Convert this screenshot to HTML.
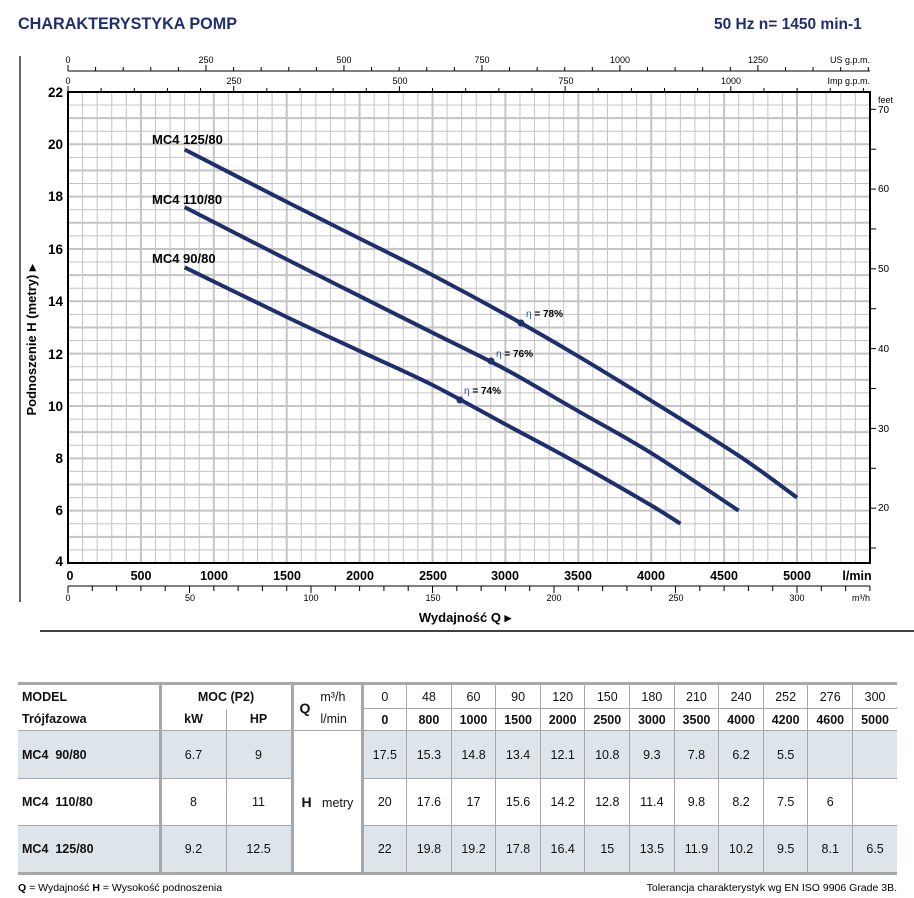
<!DOCTYPE html>
<html><head><meta charset="utf-8"><style>
html,body{margin:0;padding:0;background:#fff;width:914px;height:898px;overflow:hidden;font-family:"Liberation Sans",sans-serif}
svg{position:absolute;left:0;top:0}
table{position:absolute;left:18px;top:682px;border-collapse:collapse;font-family:"Liberation Sans",sans-serif;font-size:12.5px;color:#111}
td{border:1px solid #a8a8a8;text-align:center;padding:0;white-space:nowrap}
.b{font-weight:bold}
.sh td.s{background:#dde5eb}
</style></head><body>
<svg id="s" width="914" height="898" xmlns="http://www.w3.org/2000/svg" font-family="Liberation Sans, sans-serif">
<text x="18" y="29" font-size="16.5" font-weight="bold" fill="#1f2f6e" textLength="219" lengthAdjust="spacingAndGlyphs">CHARAKTERYSTYKA POMP</text>
<text x="714" y="29" font-size="15.5" font-weight="bold" fill="#1f2f6e">50 Hz   n= 1450 min-1</text>
<line x1="20" y1="56" x2="20" y2="602" stroke="#000" stroke-width="1.2"/>
<g id="grid"></g>
<g id="ticks" stroke="#000" stroke-width="1"></g>
<rect x="68" y="92" width="802" height="471" fill="none" stroke="#000" stroke-width="2"/>
<line x1="68" y1="71" x2="870" y2="71" stroke="#000"/>
<line x1="68" y1="586" x2="870" y2="586" stroke="#000"/>
<g font-size="9" fill="#000" text-anchor="middle">
<text x="68" y="63">0</text><text x="206" y="63">250</text><text x="344" y="63">500</text><text x="482" y="63">750</text><text x="620" y="63">1000</text><text x="758" y="63">1250</text>
<text x="870" y="63" text-anchor="end">US g.p.m.</text>
<text x="68" y="84">0</text><text x="234" y="84">250</text><text x="400" y="84">500</text><text x="566" y="84">750</text><text x="731" y="84">1000</text>
<text x="870" y="84" text-anchor="end">Imp g.p.m.</text>
<text x="68" y="601">0</text><text x="190" y="601">50</text><text x="311" y="601">100</text><text x="433" y="601">150</text><text x="554" y="601">200</text><text x="676" y="601">250</text><text x="797" y="601">300</text>
<text x="870" y="601" text-anchor="end">m³/h</text>
<text x="878" y="103" text-anchor="start">feet</text>
<text x="878" y="113" text-anchor="start" font-size="10">70</text><text x="878" y="192" text-anchor="start" font-size="10">60</text><text x="878" y="272" text-anchor="start" font-size="10">50</text><text x="878" y="352" text-anchor="start" font-size="10">40</text><text x="878" y="432" text-anchor="start" font-size="10">30</text><text x="878" y="511" text-anchor="start" font-size="10">20</text>
</g>
<g font-size="13.5" font-weight="bold" fill="#000" text-anchor="end">
<text x="63" y="97">22</text><text x="63" y="149">20</text><text x="63" y="201">18</text><text x="63" y="254">16</text><text x="63" y="306">14</text><text x="63" y="359">12</text><text x="63" y="411">10</text><text x="63" y="463">8</text><text x="63" y="515">6</text><text x="63" y="566">4</text>
</g>
<g font-size="12.5" font-weight="bold" fill="#000" text-anchor="middle">
<text x="70" y="580">0</text><text x="141" y="580">500</text><text x="214" y="580">1000</text><text x="287" y="580">1500</text><text x="360" y="580">2000</text><text x="433" y="580">2500</text><text x="505" y="580">3000</text><text x="578" y="580">3500</text><text x="651" y="580">4000</text><text x="724" y="580">4500</text><text x="797" y="580">5000</text><text x="857" y="580">l/min</text>
</g>
<text x="465" y="622" font-size="13" font-weight="bold" text-anchor="middle">Wydajność Q ▸</text>
<line x1="40" y1="631" x2="914" y2="631" stroke="#000" stroke-width="1.5"/>
<text transform="translate(36,340) rotate(-90)" font-size="13" font-weight="bold" text-anchor="middle">Podnoszenie H (metry) ▸</text>
<g id="curves" fill="none" stroke="#1f2f6e" stroke-width="4" stroke-linejoin="round"></g>
<g font-size="13" font-weight="bold" fill="#000">
<text x="152" y="144">MC4 125/80</text><text x="152" y="204">MC4 110/80</text><text x="152" y="263">MC4 90/80</text>
</g>
<g fill="#1f2f6e"><circle cx="521" cy="323" r="3.5"/><circle cx="491" cy="361" r="3.5"/><circle cx="460" cy="400" r="3.5"/></g>
<g font-size="10" font-weight="bold" fill="#000">
<text x="526" y="317"><tspan fill="#2a55a0" font-weight="normal">η</tspan> = 78%</text>
<text x="496" y="357"><tspan fill="#2a55a0" font-weight="normal">η</tspan> = 76%</text>
<text x="464" y="394"><tspan fill="#2a55a0" font-weight="normal">η</tspan> = 74%</text>
</g>
<text x="18" y="891" font-size="10.5"><tspan font-weight="bold">Q</tspan> = Wydajność  <tspan font-weight="bold">H</tspan> = Wysokość podnoszenia</text>
<text x="897" y="891" font-size="10.5" text-anchor="end">Tolerancja charakterystyk wg EN ISO 9906 Grade 3B.</text>
</svg>
<table>
<colgroup><col style="width:142px"><col style="width:66px"><col style="width:66px"><col style="width:70px"><col span="12" style="width:44.6px"></colgroup>
<tr style="height:25px"><td class="b" style="text-align:left;padding-left:4px;border-left:none;border-top:3px solid #a8a8a8;border-bottom:none;border-right:3px solid #a8a8a8">MODEL</td><td class="b" colspan="2" style="border-top:3px solid #a8a8a8;border-bottom:none;border-right:3px solid #a8a8a8">MOC (P2)</td><td rowspan="2" style="border-top:3px solid #a8a8a8;border-right:3px solid #a8a8a8;text-align:left;padding-left:6px"><span class="b" style="font-size:14px;vertical-align:middle">Q</span><span style="display:inline-block;vertical-align:middle;margin-left:10px;line-height:22px">m³/h<br>l/min</span></td>
<td style="border-top:3px solid #a8a8a8">0</td><td style="border-top:3px solid #a8a8a8">48</td><td style="border-top:3px solid #a8a8a8">60</td><td style="border-top:3px solid #a8a8a8">90</td><td style="border-top:3px solid #a8a8a8">120</td><td style="border-top:3px solid #a8a8a8">150</td><td style="border-top:3px solid #a8a8a8">180</td><td style="border-top:3px solid #a8a8a8">210</td><td style="border-top:3px solid #a8a8a8">240</td><td style="border-top:3px solid #a8a8a8">252</td><td style="border-top:3px solid #a8a8a8">276</td><td style="border-top:3px solid #a8a8a8;border-right:none">300</td></tr>
<tr style="height:22px" class="b"><td style="text-align:left;padding-left:4px;border-left:none;border-top:none;border-right:3px solid #a8a8a8">Trójfazowa</td><td style="border-top:none">kW</td><td style="border-right:3px solid #a8a8a8;border-top:none">HP</td><td>0</td><td>800</td><td>1000</td><td>1500</td><td>2000</td><td>2500</td><td>3000</td><td>3500</td><td>4000</td><td>4200</td><td>4600</td><td style="border-right:none">5000</td></tr>
<tr style="height:48px" class="sh"><td class="s b" style="text-align:left;padding-left:4px;border-left:none;border-right:3px solid #a8a8a8">MC4&nbsp; 90/80</td><td class="s">6.7</td><td class="s" style="border-right:3px solid #a8a8a8">9</td><td rowspan="3" style="border-right:3px solid #a8a8a8;border-bottom:3px solid #a8a8a8;text-align:left;padding-left:8px"><span class="b" style="font-size:14px">H</span>&nbsp;&nbsp; metry</td><td class="s">17.5</td><td class="s">15.3</td><td class="s">14.8</td><td class="s">13.4</td><td class="s">12.1</td><td class="s">10.8</td><td class="s">9.3</td><td class="s">7.8</td><td class="s">6.2</td><td class="s">5.5</td><td class="s"></td><td class="s" style="border-right:none"></td></tr>
<tr style="height:47px"><td class="b" style="text-align:left;padding-left:4px;border-left:none;border-right:3px solid #a8a8a8">MC4&nbsp; 110/80</td><td>8</td><td style="border-right:3px solid #a8a8a8">11</td><td>20</td><td>17.6</td><td>17</td><td>15.6</td><td>14.2</td><td>12.8</td><td>11.4</td><td>9.8</td><td>8.2</td><td>7.5</td><td>6</td><td style="border-right:none"></td></tr>
<tr style="height:48px" class="sh"><td class="s b" style="text-align:left;padding-left:4px;border-left:none;border-right:3px solid #a8a8a8;border-bottom:3px solid #a8a8a8">MC4&nbsp; 125/80</td><td class="s" style="border-bottom:3px solid #a8a8a8">9.2</td><td class="s" style="border-right:3px solid #a8a8a8;border-bottom:3px solid #a8a8a8">12.5</td><td class="s" style="border-bottom:3px solid #a8a8a8">22</td><td class="s" style="border-bottom:3px solid #a8a8a8">19.8</td><td class="s" style="border-bottom:3px solid #a8a8a8">19.2</td><td class="s" style="border-bottom:3px solid #a8a8a8">17.8</td><td class="s" style="border-bottom:3px solid #a8a8a8">16.4</td><td class="s" style="border-bottom:3px solid #a8a8a8">15</td><td class="s" style="border-bottom:3px solid #a8a8a8">13.5</td><td class="s" style="border-bottom:3px solid #a8a8a8">11.9</td><td class="s" style="border-bottom:3px solid #a8a8a8">10.2</td><td class="s" style="border-bottom:3px solid #a8a8a8">9.5</td><td class="s" style="border-bottom:3px solid #a8a8a8">8.1</td><td class="s" style="border-bottom:3px solid #a8a8a8;border-right:none">6.5</td></tr>
</table>
<script>
var NS="http://www.w3.org/2000/svg";
function X(q){return 68+q*0.1458}function Y(h){return 563-(h-4)*26.17}
function ln(g,x1,y1,x2,y2,c,w){var l=document.createElementNS(NS,"line");l.setAttribute("x1",x1);l.setAttribute("y1",y1);l.setAttribute("x2",x2);l.setAttribute("y2",y2);if(c)l.setAttribute("stroke",c);if(w)l.setAttribute("stroke-width",w);g.appendChild(l)}
var g=document.getElementById("grid"),t=document.getElementById("ticks");
for(var q=100;q<5500;q+=100){var th=q%500==0;ln(g,X(q),92,X(q),563,"#c4c4c4",th?2:1)}
for(var h=4.5;h<22;h+=0.5){var th=h%1==0;ln(g,68,Y(h),870,Y(h),"#c4c4c4",th?2:1)}
for(var u=0;u<=1450;u+=50){var x=X(u*3.7854);if(x<=871)ln(t,x,u%250==0?65:67,x,71)}
for(var u=0;u<=1200;u+=50){var x=X(u*4.546);if(x<=871)ln(t,x,u%250==0?86:88,x,92)}
for(var m=0;m<=330;m+=10){var x=X(m*16.667);if(x<=871)ln(t,x,586,x,m%50==0?593:591)}
for(var f=15;f<=70;f+=5){var y=Y(f*0.3048);ln(t,870,y,876,y)}
var data=[[[800,15.3],[1500,13.4],[2000,12.1],[2500,10.8],[3000,9.3],[3500,7.8],[4000,6.2],[4200,5.5]],
[[800,17.6],[1500,15.6],[2000,14.2],[2500,12.8],[3000,11.4],[3500,9.8],[4000,8.2],[4600,6]],
[[800,19.8],[1500,17.8],[2000,16.4],[2500,15],[3000,13.5],[3500,11.9],[4000,10.2],[4600,8.1],[5000,6.5]]];
var cg=document.getElementById("curves");
data.forEach(function(d){
 var P=d.map(function(a){return [X(a[0]),Y(a[1])]});
 var s="M"+P[0][0].toFixed(1)+","+P[0][1].toFixed(1);
 for(var i=0;i<P.length-1;i++){
  var p0=P[i-1]||P[i],p1=P[i],p2=P[i+1],p3=P[i+2]||P[i+1];
  var c1=[p1[0]+(p2[0]-p0[0])/6,p1[1]+(p2[1]-p0[1])/6],c2=[p2[0]-(p3[0]-p1[0])/6,p2[1]-(p3[1]-p1[1])/6];
  s+=" C"+c1[0].toFixed(1)+","+c1[1].toFixed(1)+" "+c2[0].toFixed(1)+","+c2[1].toFixed(1)+" "+p2[0].toFixed(1)+","+p2[1].toFixed(1);
 }
 var p=document.createElementNS(NS,"path");p.setAttribute("d",s);cg.appendChild(p)});
</script>
</body></html>
